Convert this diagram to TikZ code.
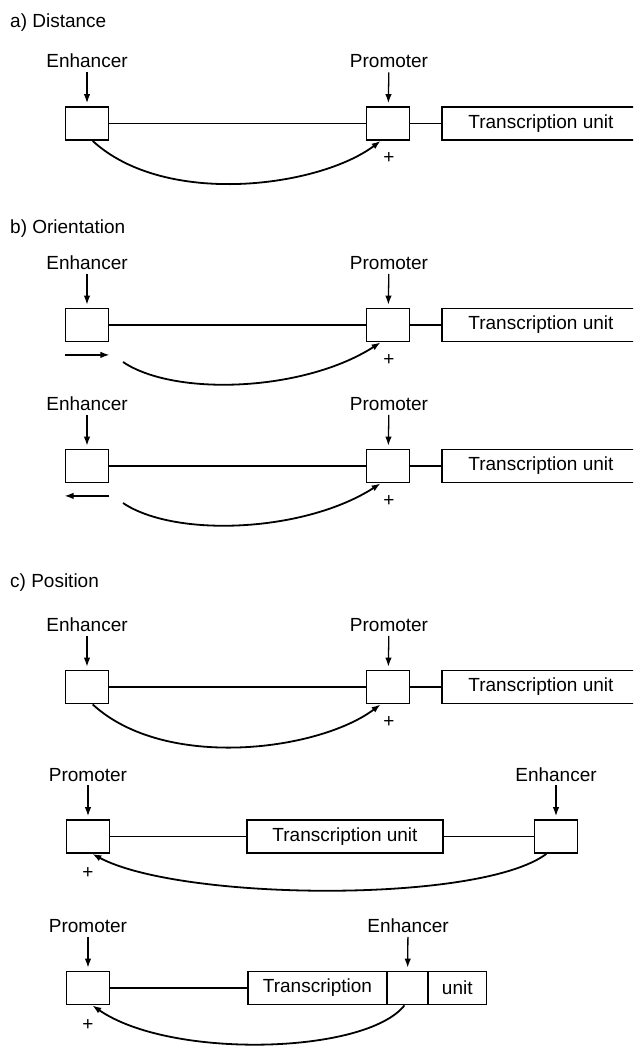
\documentclass[tikz,border=0pt]{standalone}
\usepackage{fontspec}
\setmainfont{Liberation Sans}
\usetikzlibrary{arrows.meta}
\tikzset{site/.style={draw,line width=1.8pt,minimum width=43pt,minimum height=33pt,inner sep=0pt},
  unitbox/.style={draw,line width=1.8pt,minimum height=33pt,inner sep=0pt},
  tag/.style={anchor=base,inner sep=4pt},
  strand/.style={line width=1.8pt},
  pointer/.style={-{Latex[length=9pt,width=6.5pt]},line width=1.3pt,shorten >=3pt},
  contact/.style={-{Latex[length=9pt,width=6.5pt]},line width=1.8pt}}
\begin{document}
\begin{tikzpicture}[x=1pt,y=-1pt,font=\fontsize{19}{23}\selectfont]
  \path[use as bounding box] (0,0) rectangle (633,1046);
  \clip (0,0) rectangle (633,1046);
  \node[anchor=base west,inner sep=0pt] (ha) at (10,28) {a) Distance};
  \node[anchor=base west,inner sep=0pt] (hb) at (10,233) {b) Orientation};
  \node[anchor=base west,inner sep=0pt] (hc) at (10,587) {c) Position};
  % enhancer upstream of the promoter
  \foreach \r/\yc in {a/123.5,b/325,o/466,c/687}{
    \node[site] (E\r) at (87,\yc) {};
    \node[site] (P\r) at (388,\yc) {};
    \node[unitbox,anchor=west,minimum width=198pt] (T\r) at (441,\yc) {Transcription unit};
    \node[tag] (tE\r) at (87,\yc-55.5) {Enhancer};
    \node[tag] (tP\r) at (389,\yc-55.5) {Promoter};
    \draw[pointer] (tE\r) -- (E\r);
    \draw[pointer] (tP\r) -- (P\r);
    \draw[strand] (E\r) -- (P\r) (P\r) -- (T\r);
    \node (plus\r) at (389,\yc+35) {+};
  }
  \draw[contact] (Ea.-72) .. controls +(73,67) and +(-61,46) .. (Pa.-113);
  \draw[contact] (Ec.-72) .. controls +(73,67) and +(-61,46) .. (Pc.-113);
  \coordinate (sb) at (123,362);
  \coordinate (so) at (123,503);
  \draw[contact] (sb) .. controls +(52,35) and +(-76,49) .. (Pb.-113);
  \draw[contact] (so) .. controls +(52,35) and +(-76,49) .. (Po.-113);
  \draw[pointer,shorten >=0pt] ([yshift=-12.5pt]Eb.south west) -- ([yshift=-12.5pt]Eb.south east);
  \draw[pointer,shorten >=0pt] ([yshift=-12.5pt]Eo.south east) -- ([yshift=-12.5pt]Eo.south west);
  % enhancer downstream
  \node[site] (Pe) at (88,836.5) {};
  \node[unitbox,minimum width=196pt] (Te) at (345,836.5) {Transcription unit};
  \node[site] (Ee) at (556,836.5) {};
  \node[tag] (tPe) at (88,781) {Promoter};
  \node[tag] (tEe) at (556,781) {Enhancer};
  \draw[pointer] (tPe) -- (Pe);
  \draw[pointer] (tEe) -- (Ee);
  \draw[strand] (Pe) -- (Te) -- (Ee);
  \node (pluse) at (88,873) {+};
  \draw[contact] (Ee.-119) .. controls +(-67,50) and +(88,47) .. (Pe.-76);
  % enhancer inside the transcription unit
  \node[site] (Pf) at (88,988) {};
  \node[unitbox,minimum width=139pt] (Tf) at (317.5,988) {Transcription};
  \node[unitbox,minimum width=41pt] (Ef) at (407.5,988) {};
  \node[unitbox,minimum width=58.5pt] (Uf) at (457.25,988) {unit};
  \node[tag] (tPf) at (88,932.5) {Promoter};
  \node[tag] (tEf) at (408,932.5) {Enhancer};
  \draw[pointer] (tPf) -- (Pf);
  \draw[pointer] (tEf) -- (Ef);
  \draw[strand] (Pf) -- (Tf);
  \node (plusf) at (88,1025) {+};
  \draw[contact] (Ef.-100) .. controls +(-39,49) and +(78,54) .. (Pf.-76);
\end{tikzpicture}
\end{document}
